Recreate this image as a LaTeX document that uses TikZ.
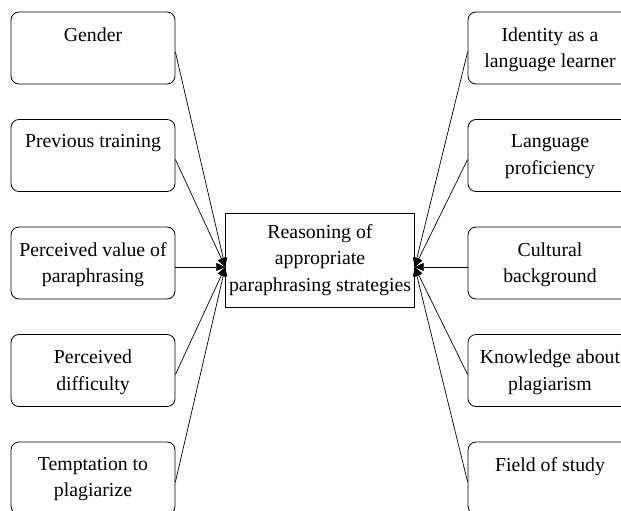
\documentclass[tikz,border=0pt]{standalone}
\usepackage{fontspec}
\setmainfont{Liberation Serif}
\usetikzlibrary{arrows.meta}

\tikzset{
    factor/.style={draw, rounded corners=8pt, line width=0.8pt, minimum width=164pt, minimum height=72pt},
    factortext/.style={anchor=north, align=center, inner sep=0pt, yshift=-15.5pt},
    feed/.style={-{Triangle[length=9pt,width=8pt]}, line width=0.7pt},
}

\begin{document}
\begin{tikzpicture}[x=1pt, y=-1pt, font=\fontsize{19.8pt}{26.5pt}\selectfont]
    \useasboundingbox (0,0) rectangle (621,511);

    \node[draw, line width=0.8pt, minimum width=188pt, minimum height=94pt, align=center] (reason) at (320,260)
        {Reasoning of\\appropriate\\paraphrasing strategies};
    \coordinate (rin) at ([yshift=-7pt]reason.west);
    \coordinate (rout) at ([yshift=-7pt]reason.east);

    \foreach \i/\txt in {1/Gender, 2/Previous training, 3/{Perceived value of\\paraphrasing},
                         4/{Perceived\\difficulty}, 5/{Temptation to\\plagiarize}} {
        \node[factor] (l\i) at (93,{48+107.5*(\i-1)}) {};
        \node[factortext] (l\i t) at (l\i.north) {\txt};
        \draw[feed] ([yshift=-4pt]l\i.east) -- (rin);
    }

    \foreach \i/\txt in {1/{Identity as a\\language learner}, 2/{Language\\proficiency}, 3/{Cultural\\background},
                         4/{Knowledge about\\plagiarism}, 5/Field of study} {
        \node[factor] (r\i) at (550,{48+107.5*(\i-1)}) {};
        \node[factortext] (r\i t) at (r\i.north) {\txt};
        \draw[feed] ([yshift=-4pt]r\i.west) -- (rout);
    }
\end{tikzpicture}
\end{document}
